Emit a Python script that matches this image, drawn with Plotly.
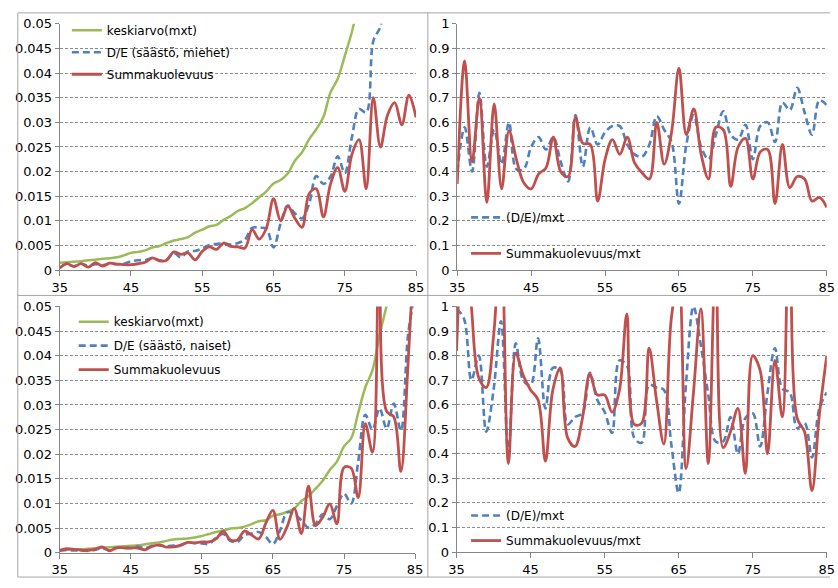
import plotly.graph_objects as go

# ---------------------------------------------------------------- data
ages = list(range(35, 86))

x_tick_vals = [35, 45, 55, 65, 75, 85]
x_tick_text = ["35", "45", "55", "65", "75", "85"]
rate_tick_vals = [0, 0.005, 0.01, 0.015, 0.02, 0.025, 0.03, 0.035, 0.04, 0.045, 0.05]
rate_tick_text = ["0", "0.005", "0.01", "0.015", "0.02", "0.025", "0.03", "0.035", "0.04", "0.045", "0.05"]
ratio_tick_vals = [0, 0.1, 0.2, 0.3, 0.4, 0.5, 0.6, 0.7, 0.8, 0.9, 1]
ratio_tick_text = ["0", "0.1", "0.2", "0.3", "0.4", "0.5", "0.6", "0.7", "0.8", "0.9", "1"]

# men: keskiarvo(mxt), D/E (säästö) and Summakuolevuus, ages 35..85
men_mean = [0.0015, 0.0016, 0.0017, 0.0018, 0.0020, 0.0021, 0.0023, 0.0024, 0.0026, 0.0030,
            0.0035, 0.0037, 0.0040, 0.0046, 0.0049, 0.0055, 0.0060, 0.0063, 0.0067, 0.0076,
            0.0082, 0.0089, 0.0092, 0.0102, 0.0110, 0.0120, 0.0126, 0.0136, 0.0148, 0.0160,
            0.0176, 0.0183, 0.0196, 0.0222, 0.0239, 0.0266, 0.0286, 0.0311, 0.0361, 0.0388,
            0.0435, 0.0484, 0.0545, 0.0600, 0.0665, 0.0730, 0.0805, 0.0885, 0.0970, 0.1070,
            0.1180]
men_de = [0.0005, 0.0012, 0.0008, 0.0013, 0.0009, 0.0012, 0.0010, 0.0013, 0.0012, 0.0013,
          0.0018, 0.0020, 0.0020, 0.0024, 0.0020, 0.0021, 0.0035, 0.0026, 0.0038, 0.0039,
          0.0044, 0.0051, 0.0053, 0.0054, 0.0052, 0.0055, 0.0062, 0.0086, 0.0086, 0.0084,
          0.0046, 0.0095, 0.0131, 0.0115, 0.0105, 0.0135, 0.0191, 0.0175, 0.0190, 0.0231,
          0.0197, 0.0270, 0.0327, 0.0320, 0.0465, 0.0495, 0.0595, 0.0565, 0.0535, 0.0740,
          0.0790]
men_sum = [0.0004, 0.0013, 0.0007, 0.0013, 0.0006, 0.0015, 0.0008, 0.0014, 0.0012, 0.0011,
           0.0011, 0.0013, 0.0016, 0.0025, 0.0019, 0.0020, 0.0037, 0.0032, 0.0035, 0.0021,
           0.0038, 0.0047, 0.0042, 0.0055, 0.0048, 0.0047, 0.0045, 0.0082, 0.0063, 0.0085,
           0.0145, 0.0100, 0.0130, 0.0105, 0.0087, 0.0155, 0.0165, 0.0108, 0.0175, 0.0208,
           0.0160, 0.0235, 0.0265, 0.0165, 0.0350, 0.0250, 0.0315, 0.0340, 0.0295, 0.0355,
           0.0310]
men_de_ratio = [0.40, 0.58, 0.40, 0.72, 0.42, 0.57, 0.43, 0.60, 0.41, 0.41,
                0.50, 0.54, 0.49, 0.54, 0.44, 0.36, 0.63, 0.42, 0.58, 0.51,
                0.56, 0.585, 0.585, 0.51, 0.47, 0.46, 0.51, 0.625, 0.57, 0.52,
                0.27, 0.51, 0.63, 0.50, 0.45, 0.55, 0.645, 0.55, 0.53, 0.59,
                0.45, 0.585, 0.60, 0.52, 0.68, 0.65, 0.74, 0.64, 0.55, 0.69,
                0.67]
men_sum_ratio = [0.35, 0.85, 0.44, 0.70, 0.275, 0.675, 0.33, 0.565, 0.45, 0.355,
                 0.33, 0.39, 0.415, 0.54, 0.40, 0.38, 0.62, 0.515, 0.51, 0.28,
                 0.45, 0.53, 0.47, 0.54, 0.435, 0.395, 0.37, 0.60, 0.43, 0.56,
                 0.82, 0.55, 0.655, 0.47, 0.37, 0.58, 0.57, 0.34, 0.50, 0.535,
                 0.37, 0.48, 0.49, 0.27, 0.51, 0.335, 0.38, 0.37, 0.28, 0.295,
                 0.255]

# women
women_mean = [0.0005, 0.0006, 0.0007, 0.0007, 0.0008, 0.0009, 0.0010, 0.0011, 0.0012, 0.0013,
              0.0014, 0.0015, 0.0017, 0.0019, 0.0021, 0.0024, 0.0027, 0.0028, 0.0029, 0.0031,
              0.0034, 0.0038, 0.0042, 0.0045, 0.0049, 0.0050, 0.0053, 0.0058, 0.0064, 0.0066,
              0.0075, 0.0078, 0.0083, 0.0090, 0.0105, 0.0115, 0.0130, 0.0146, 0.0168, 0.0185,
              0.0216, 0.0232, 0.0284, 0.0336, 0.0370, 0.0442, 0.0502, 0.0570, 0.0640, 0.0730,
              0.0820]
women_de = [0.0004, 0.00055, 0.00045, 0.00045, 0.00035, 0.0006, 0.0009, 0.0005, 0.0010, 0.00095,
            0.00095, 0.00125, 0.0009, 0.0014, 0.0015, 0.0013, 0.00145, 0.00155, 0.00205, 0.00195,
            0.0019, 0.0018, 0.0030, 0.0038, 0.0024, 0.0022, 0.0036, 0.0039, 0.0042, 0.0032,
            0.0018, 0.0045, 0.0082, 0.0078, 0.0066, 0.0051, 0.0059, 0.0078, 0.0068, 0.0095,
            0.0120, 0.0100, 0.0185, 0.0280, 0.0250, 0.0293, 0.0252, 0.0303, 0.0248, 0.0440,
            0.0530]
women_sum = [0.0005, 0.0008, 0.0007, 0.0005, 0.0005, 0.0007, 0.0012, 0.0004, 0.0010, 0.0010,
             0.00095, 0.00095, 0.0006, 0.0013, 0.0016, 0.00115, 0.0012, 0.0015, 0.0021, 0.0020,
             0.0022, 0.0022, 0.0028, 0.0044, 0.0026, 0.0026, 0.0044, 0.0036, 0.0028, 0.0060,
             0.0086, 0.0027, 0.0053, 0.0090, 0.0039, 0.0135, 0.0055, 0.0072, 0.0099, 0.0059,
             0.0173, 0.0172, 0.0112, 0.0262, 0.0204, 0.0720, 0.0287, 0.0276, 0.0165, 0.0380,
             0.0650]
women_de_ratio = [0.99, 0.95, 0.70, 0.80, 0.49, 0.66, 0.94, 0.40, 0.85, 0.70,
                  0.68, 0.87, 0.585, 0.75, 0.74, 0.52, 0.55, 0.565, 0.73, 0.62,
                  0.57, 0.485, 0.78, 0.76, 0.465, 0.445, 0.68, 0.67, 0.66, 0.44,
                  0.24, 0.69, 1.00, 0.84, 0.64, 0.45, 0.45, 0.55, 0.40, 0.545,
                  0.565, 0.43, 0.65, 0.83, 0.665, 0.65, 0.505, 0.525, 0.385, 0.585,
                  0.65]
women_sum_ratio = [0.82, 1.35, 1.00, 0.71, 0.67, 0.88, 1.30, 0.36, 0.81, 0.72,
                   0.66, 0.62, 0.37, 0.66, 0.75, 0.465, 0.43, 0.545, 0.725, 0.64,
                   0.64, 0.57, 0.66, 0.97, 0.52, 0.525, 0.83, 0.62, 0.44, 0.95,
                   1.12, 0.34, 0.65, 0.99, 0.36, 1.22, 0.425, 0.49, 0.585, 0.32,
                   0.80, 0.74, 0.40, 0.78, 0.55, 1.60, 0.545, 0.49, 0.25, 0.56,
                   0.80]

# ---------------------------------------------------------------- style
W, H = 838, 588
GREEN = "#9BBB59"
BLUE = "#4F81BD"
RED = "#C0504D"
AXIS = "#868686"
GRID = "#8C8C8C"
FONT = "DejaVu Sans"


def px_x(v):
    return v / W


def px_y(v):
    return 1 - v / H


# plot areas in pixels: (left, top, right, bottom)
areas = {
    1: (52.7, 17.3, 416.0, 270.0),
    2: (458.0, 17.3, 834.7, 270.0),
    3: (52.7, 307.3, 415.0, 560.0),
    4: (457.3, 307.3, 834.7, 559.3),
}

fig = go.Figure()


def line(x, y, name, color, width, dash, axis, legend):
    suffix = "" if axis == 1 else str(axis)
    fig.add_trace(go.Scatter(
        x=x, y=y, name=name, mode="lines",
        line=dict(color=color, width=width, dash=dash, shape="spline", smoothing=1.0),
        xaxis="x" + suffix, yaxis="y" + suffix,
        legend=legend, legendgroup=name + suffix,
        hoverinfo="skip",
    ))


DASH = "7px,4px"
line(ages, men_mean, "keskiarvo(mxt)", GREEN, 2.5, "solid", 1, "legend")
line(ages, men_de, "D/E (säästö, miehet)", BLUE, 2.6, DASH, 1, "legend")
line(ages, men_sum, "Summakuolevuus", RED, 2.8, "solid", 1, "legend")

line(ages, men_de_ratio, "(D/E)/mxt", BLUE, 2.6, DASH, 2, "legend2")
line(ages, men_sum_ratio, "Summakuolevuus/mxt", RED, 2.8, "solid", 2, "legend2")

line(ages, women_mean, "keskiarvo(mxt)", GREEN, 2.5, "solid", 3, "legend3")
line(ages, women_de, "D/E (säästö, naiset)", BLUE, 2.6, DASH, 3, "legend3")
line(ages, women_sum, "Summakuolevuus", RED, 2.8, "solid", 3, "legend3")

line(ages, women_de_ratio, "(D/E)/mxt", BLUE, 2.6, DASH, 4, "legend4")
line(ages, women_sum_ratio, "Summakuolevuus/mxt", RED, 2.8, "solid", 4, "legend4")

tick_font = dict(family=FONT, size=13, color="#000000")
layout = dict(
    width=W, height=H,
    margin=dict(l=0, r=0, t=0, b=0),
    paper_bgcolor="white", plot_bgcolor="white",
    showlegend=True,
    font=dict(family=FONT, size=12, color="#000000"),
)

for i, (l, t, r, b) in areas.items():
    s = "" if i == 1 else str(i)
    rate = i in (1, 3)
    layout["xaxis" + s] = dict(
        domain=[px_x(l), px_x(r)], anchor="y" + s,
        range=[35, 85], tickmode="array",
        tickvals=x_tick_vals, ticktext=x_tick_text,
        showgrid=False, zeroline=False,
        showline=True, linecolor=AXIS, linewidth=1,
        ticks="outside", ticklen=5, tickcolor=AXIS,
        tickfont=tick_font,
    )
    layout["yaxis" + s] = dict(
        domain=[px_y(b), px_y(t)], anchor="x" + s,
        range=[0, 0.05] if rate else [0, 1],
        tickmode="array",
        tickvals=rate_tick_vals if rate else ratio_tick_vals,
        ticktext=rate_tick_text if rate else ratio_tick_text,
        showgrid=True, gridcolor=GRID, gridwidth=1, griddash="3px,2px",
        zeroline=False,
        showline=True, linecolor=AXIS, linewidth=1,
        ticks="outside", ticklen=4, tickcolor=AXIS,
        tickfont=tick_font,
    )

legend_base = dict(
    xanchor="left", yanchor="top", bgcolor="rgba(0,0,0,0)",
    borderwidth=0, font=dict(family=FONT, size=12, color="#000000"),
    traceorder="grouped", itemclick=False, itemdoubleclick=False,
)
layout["legend"] = dict(legend_base, x=px_x(60), y=px_y(9), tracegroupgap=3)
layout["legend2"] = dict(legend_base, x=px_x(467), y=px_y(201), tracegroupgap=17)
layout["legend3"] = dict(legend_base, x=px_x(67), y=px_y(308), tracegroupgap=5)
layout["legend4"] = dict(legend_base, x=px_x(467), y=px_y(507), tracegroupgap=6)

# chart frames
frame = dict(type="line", xref="paper", yref="paper", line=dict(color="#A6A6A6", width=1))
shapes = [
    dict(frame, x0=px_x(10), x1=1, y0=px_y(6), y1=px_y(6)),
    dict(frame, x0=px_x(10), x1=1, y0=px_y(296), y1=px_y(296)),
    dict(frame, x0=px_x(10), x1=1, y0=px_y(585), y1=px_y(585)),
    dict(frame, x0=px_x(10), x1=px_x(10), y0=px_y(6), y1=px_y(585)),
    dict(frame, x0=px_x(428), x1=px_x(428), y0=px_y(6), y1=px_y(585)),
]
layout["shapes"] = shapes

fig.update_layout(**layout)
fig.write_html("out.html")
